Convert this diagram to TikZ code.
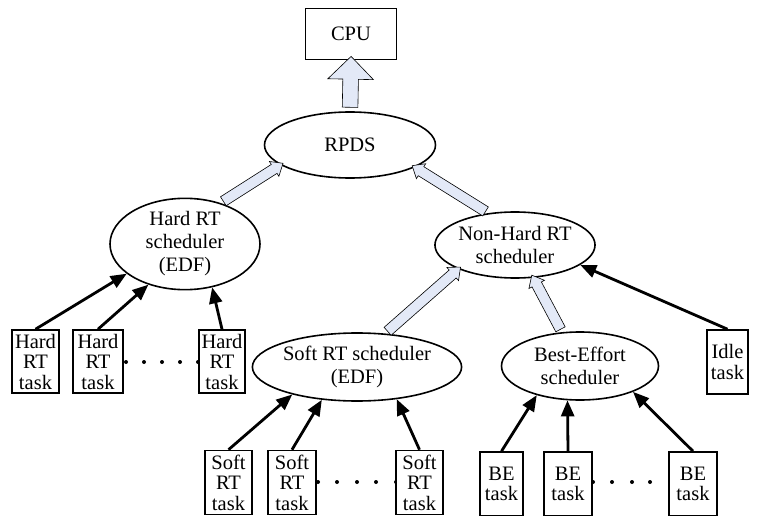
\documentclass[tikz,border=0pt]{standalone}
\usepackage{fontspec}
\setmainfont{Liberation Serif}
\usetikzlibrary{shapes.geometric,shapes.arrows,arrows.meta,calc}
\definecolor{arrowfill}{HTML}{E3E9F7}
\newcommand\hollowarr[5]{%
  \path let \p1=(#1), \p2=(#2), \n1={atan2(\y2-\y1,\x2-\x1)}, \n2={veclen(\x2-\x1,\y2-\y1)} in
    node[hollow, rotate=\n1, minimum height=\n2, inner ysep=#3, single arrow head extend=#4, single arrow tip angle=#5] at ($(\p1)!0.5!(\p2)$) {};}
\begin{document}
\begin{tikzpicture}[x=1pt,y=-1pt,
  sched/.style={ellipse, draw, line width=1.6pt, fill=white, inner sep=0pt, align=center, font=\fontsize{20.5}{23}\selectfont},
  task/.style={draw, line width=1.6pt, fill=white, minimum height=64pt, inner sep=0pt, align=center, font=\fontsize{20.5}{20.5}\selectfont},
  feed/.style={line width=2.8pt, -{Triangle[length=16pt,width=13pt]}},
  hollow/.style={single arrow, draw, line width=0.6pt, fill=arrowfill, inner xsep=0pt, minimum width=0pt},
  dot/.style={circle, fill, inner sep=0pt, minimum size=4pt}]
\useasboundingbox (0,0) rectangle (763,516);

% dots (drawn first, boxes cover the ends)
\foreach \x [count=\i] in {126,144,162,180,198} \node[dot] (hd\i) at (\x,362) {};
\foreach \x [count=\i] in {318,337,357,376,396} \node[dot] (sd\i) at (\x,482) {};
\foreach \x [count=\i] in {593,612,632,650,670} \node[dot] (bd\i) at (\x,482) {};

% top
\node[draw, line width=1.6pt, minimum width=91pt, minimum height=51pt, inner sep=0pt, font=\fontsize{20.5}{23}\selectfont] (cpu) at (351,34) {CPU};
\node[sched, minimum width=171pt, minimum height=66pt] (rpds) at (350,145) {RPDS};

% schedulers
\node[sched, minimum width=150pt, minimum height=72pt] (hrs) at (185,244) {Hard RT\\scheduler\\(EDF)};
\node[sched, minimum width=157pt, minimum height=66pt] (nhrs) at (515,245) {Non-Hard RT\\scheduler};
\node[sched, minimum width=150pt, minimum height=68pt] (srs) at (357,367) {Soft RT scheduler\\(EDF)};
\node[sched, minimum width=157pt, minimum height=68pt] (bes) at (580,366) {Best-Effort\\scheduler};

% tasks
\node[task, minimum width=47pt, minimum height=63pt] (hrt1) at (35.5,361.5) {Hard\\RT\\task};
\node[task, minimum width=50pt, minimum height=63pt] (hrt2) at (98,361.5) {Hard\\RT\\task};
\node[task, minimum width=46pt, minimum height=63pt] (hrt3) at (222,361.5) {Hard\\RT\\task};
\node[task, minimum width=47pt] (srt1) at (228.5,482.5) {Soft\\RT\\task};
\node[task, minimum width=48pt] (srt2) at (292,482.5) {Soft\\RT\\task};
\node[task, minimum width=47pt] (srt3) at (419.5,482.5) {Soft\\RT\\task};
\node[task, minimum width=43pt] (bet1) at (501.5,484) {BE\\task};
\node[task, minimum width=48pt] (bet2) at (568,484) {BE\\task};
\node[task, minimum width=48pt] (bet3) at (693,484) {BE\\task};
\node[task, minimum width=41pt] (idle) at (727.5,362) {Idle\\task};

% hollow arrows
\hollowarr{rpds.north}{cpu.south}{7.5pt}{15pt}{90}
\hollowarr{hrs.49}{rpds.196}{5pt}{3.5pt}{80}
\hollowarr{nhrs.130}{rpds.341}{5pt}{3.5pt}{80}
\hollowarr{srs.50}{nhrs.203}{5pt}{3.5pt}{80}
\hollowarr{bes.118}{nhrs.299}{5pt}{3.5pt}{80}

% black arrows
\draw[feed] (hrt1.north) -- (hrs.207);
\draw[feed] (hrt2.north) -- (hrs.228);
\draw[feed] (hrt3.north) -- (hrs.302);
\draw[feed] (srt1.north) -- (srs.203);
\draw[feed] (srt2.north) -- (srs.223);
\draw[feed] (srt3.north) -- (srs.321);
\draw[feed] (bet1.north) -- (bes.214);
\draw[feed] (bet2.north) -- (bes.250);
\draw[feed] (bet3.north) -- (bes.334);
\draw[feed] (idle.north) -- (nhrs.343);
\end{tikzpicture}
\end{document}
